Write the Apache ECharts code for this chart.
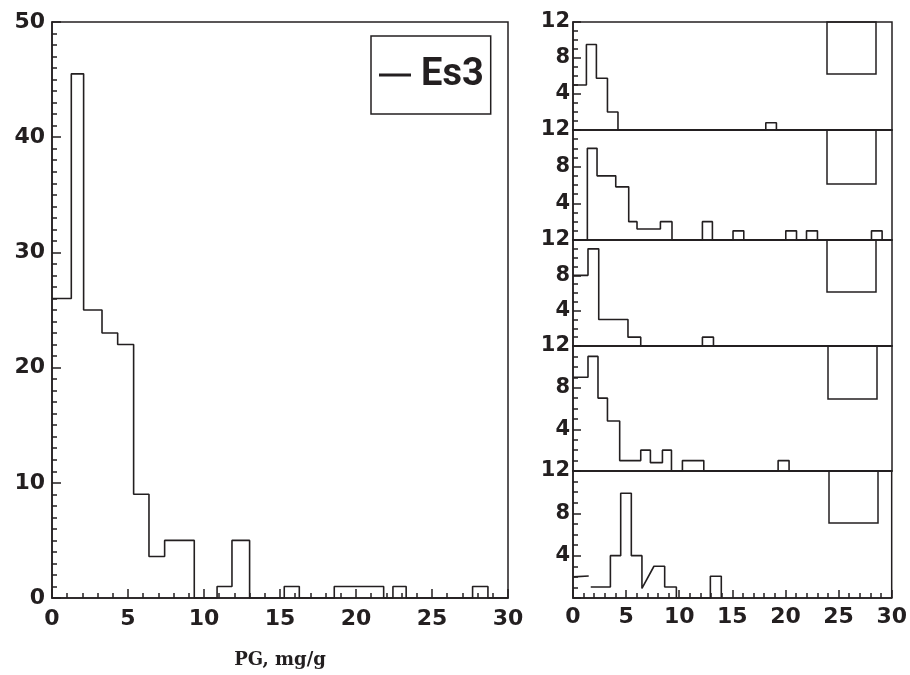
<!DOCTYPE html>
<html>
<head>
<meta charset="UTF-8">
<title>PG histogram</title>
<script type="text/javascript" src="https://cdn.jsdelivr.net/npm/echarts@6/dist/echarts.min.js"></script>
</head>
<body style="margin:0;background:#fff;">
    <div id="main" style="width:910px;height:675px;"></div>
    <script type="text/javascript">
    // data: bin edges (PG, mg/g) and counts
    var mainEdges = [0, 1.27, 2.08, 3.29, 4.32, 5.37, 6.38, 7.41, 9.36, 10.86, 11.84, 13.0, 15.28, 16.27, 18.57, 21.82, 22.43, 23.3, 27.67, 28.68, 30];
    var mainCounts = [26, 45.5, 25, 23, 22, 9, 3.6, 5, 0, 1, 5, 0, 1, 0, 1, 0, 1, 0, 1, 0];

    var p1Edges = [0, 1.26, 2.2, 3.24, 4.23, 18.13, 19.13, 30];
    var p1Counts = [5, 9.5, 5.75, 2, 0, 0.8, 0];

    var p2Edges = [0, 1.35, 2.26, 4.02, 5.24, 6.02, 8.22, 9.31, 12.17, 13.11, 15.05, 16.06, 20.01, 21.02, 21.96, 22.99, 28.07, 29.07, 30];
    var p2Counts = [0, 10, 7, 5.8, 2, 1.2, 2, 0, 2, 0, 1, 0, 1, 0, 1, 0, 1, 0];

    var p3Edges = [0, 1.41, 2.42, 5.17, 6.37, 12.17, 13.21, 30];
    var p3Counts = [8, 11, 3, 1, 0, 1, 0];

    var p4Edges = [0, 1.41, 2.35, 3.24, 4.39, 6.37, 7.28, 8.41, 9.26, 10.29, 12.3, 19.29, 20.32, 30];
    var p4Counts = [9, 11, 7, 4.8, 1, 2, 0.8, 2, 0, 1, 0, 1, 0];

    // last panel is drawn as a broken polyline, not a clean step
    var p5X = [0, 1.48, 1.5, 1.67, 3.52, 3.52, 4.49, 4.49, 5.49, 5.49, 6.49, 6.49, 7.62, 8.63, 8.63, 9.73, 9.73, 12.93, 12.93, 13.96, 13.96];
    var p5Y = [2.0, 2.08, null, 1.04, 1.04, 4, 4, 9.9, 9.9, 4, 4, 0.9, 3, 3, 1.04, 1.04, 0, 0, 2.05, 2.05, 0];

    var xTicks = [0, 5, 10, 15, 20, 25, 30];
    var mainYTicks = [0, 10, 20, 30, 40, 50];
    var panelYTicks = [0, 4, 8, 12];

    var ink = '#231f20';
    var labelFont = { color: ink, fontFamily: 'DejaVu Sans', fontWeight: 'bold' };

    function steps(edges, counts) {
        var pts = [];
        for (var i = 0; i < counts.length; i++) {
            pts.push([edges[i], counts[i]], [edges[i + 1], counts[i]]);
        }
        return pts;
    }

    function zip(xs, ys) {
        return xs.map(function (x, i) { return [x, ys[i]]; });
    }

    // right column panels, top to bottom
    var panelTop = [22, 130, 240, 346, 471];
    var panelBottom = [130, 240, 346, 471, 598];
    var panelData = [
        steps(p1Edges, p1Counts),
        steps(p2Edges, p2Counts),
        steps(p3Edges, p3Counts),
        steps(p4Edges, p4Counts),
        zip(p5X, p5Y)
    ];
    // empty stat boxes hanging from each panel top
    var boxes = [[827, 22, 49, 52], [827, 130, 49, 54], [827, 240, 49, 52], [828, 346, 49, 53], [829, 471, 49, 52]];

    var grids = [{ left: 52, top: 22, width: 456, height: 576 }];
    var xAxes = [{
        gridIndex: 0, type: 'value',
        min: xTicks[0], max: xTicks[xTicks.length - 1], interval: xTicks[1] - xTicks[0],
        name: 'PG, mg/g', nameLocation: 'middle', nameGap: 53,
        nameTextStyle: { color: ink, fontFamily: 'DejaVu Serif', fontWeight: 'bold', fontSize: 18 },
        axisLine: { lineStyle: { color: ink, width: 1.5 } },
        axisTick: { inside: true, length: 9, lineStyle: { color: ink, width: 1.5 } },
        minorTick: { show: true, splitNumber: 5, length: 5, lineStyle: { color: ink, width: 1.5 } },
        axisLabel: Object.assign({ fontSize: 22, margin: 10 }, labelFont),
        splitLine: { show: false }
    }];
    var yAxes = [{
        gridIndex: 0, type: 'value',
        min: mainYTicks[0], max: mainYTicks[mainYTicks.length - 1], interval: mainYTicks[1] - mainYTicks[0],
        axisLine: { lineStyle: { color: ink, width: 1.5 } },
        axisTick: { inside: true, length: 9, lineStyle: { color: ink, width: 1.5 } },
        minorTick: { show: true, splitNumber: 10, length: 5, lineStyle: { color: ink, width: 1.5 } },
        axisLabel: Object.assign({ fontSize: 22, margin: 7 }, labelFont),
        splitLine: { show: false }
    }];
    var series = [{
        name: 'Es3', type: 'line', xAxisIndex: 0, yAxisIndex: 0,
        data: steps(mainEdges, mainCounts),
        symbol: 'none', lineStyle: { color: ink, width: 1.6 }, itemStyle: { color: ink }
    }];

    for (var i = 0; i < 5; i++) {
        var last = i === 4;
        grids.push({ left: 573, top: panelTop[i], width: 319, height: panelBottom[i] - panelTop[i] });
        xAxes.push({
            gridIndex: i + 1, type: 'value',
            min: xTicks[0], max: xTicks[xTicks.length - 1], interval: xTicks[1] - xTicks[0],
            axisLine: { lineStyle: { color: ink, width: 1.5 } },
            axisTick: { show: last, inside: true, length: 8, lineStyle: { color: ink, width: 1.5 } },
            minorTick: { show: last, splitNumber: 5, length: 5, lineStyle: { color: ink, width: 1.5 } },
            axisLabel: Object.assign({ show: last, fontSize: 22, margin: 8 }, labelFont),
            splitLine: { show: false }
        });
        yAxes.push({
            gridIndex: i + 1, type: 'value',
            min: panelYTicks[0], max: panelYTicks[panelYTicks.length - 1], interval: panelYTicks[1] - panelYTicks[0],
            axisLine: { lineStyle: { color: ink, width: 1.5 } },
            axisTick: { inside: true, length: 8, lineStyle: { color: ink, width: 1.5 } },
            minorTick: { show: true, splitNumber: 4, length: 5, lineStyle: { color: ink, width: 1.5 } },
            axisLabel: Object.assign({
                fontSize: 21, margin: 3,
                formatter: function (v) { return v === 0 ? '' : String(v); }
            }, labelFont),
            splitLine: { show: false }
        });
        series.push({
            name: 'panel' + (i + 1), type: 'line', xAxisIndex: i + 1, yAxisIndex: i + 1,
            data: panelData[i], connectNulls: false,
            symbol: 'none', lineStyle: { color: ink, width: 1.6 }, itemStyle: { color: ink }
        });
    }
    grids.forEach(function (g) {
        g.show = true; g.borderColor = ink; g.borderWidth = 1.5; g.backgroundColor = 'transparent';
    });

    var myChart = echarts.init(document.getElementById('main'));
    var option = {
        backgroundColor: '#fff',
        animation: false,
        legend: {
            data: [{ name: 'Es3', icon: 'rect' }],
            left: 371, top: 36,
            itemWidth: 32, itemHeight: 3,
            padding: [20, 7, 20, 8],
            borderColor: ink, borderWidth: 1.5,
            textStyle: {
                color: ink, fontSize: 38, fontWeight: 'bold',
                fontFamily: 'Roboto',
                padding: [0, 0, 0, 5]
            }
        },
        grid: grids,
        xAxis: xAxes,
        yAxis: yAxes,
        series: series,
        graphic: boxes.map(function (b) {
            return {
                type: 'rect', shape: { x: b[0], y: b[1], width: b[2], height: b[3] },
                style: { fill: 'none', stroke: ink, lineWidth: 1.5 }, z: 10
            };
        })
    };
    myChart.setOption(option);
    </script>
</body>
</html>
